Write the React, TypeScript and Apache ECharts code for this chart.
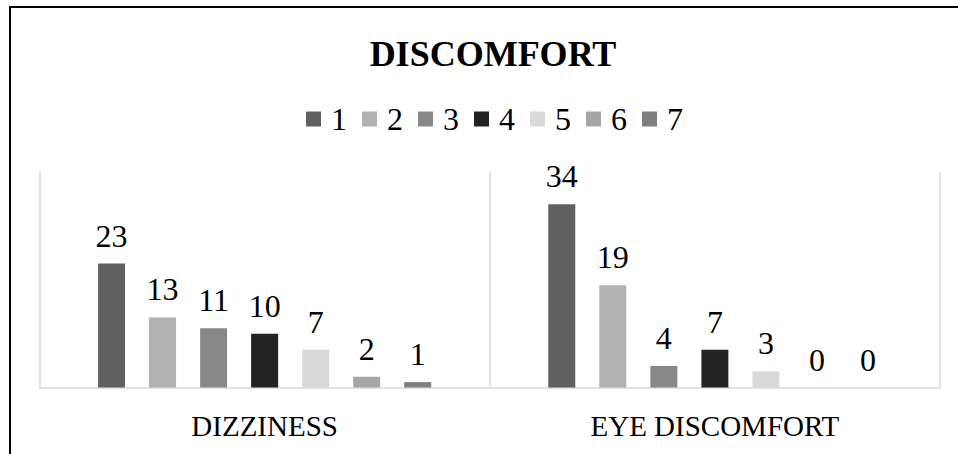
import React, { useEffect, useRef } from "react";
import * as echarts from "echarts";

const categories = ["DIZZINESS", "EYE DISCOMFORT"];
const seriesNames = ["1", "2", "3", "4", "5", "6", "7"];
const series1 = [23, 34];
const series2 = [13, 19];
const series3 = [11, 4];
const series4 = [10, 7];
const series5 = [7, 3];
const series6 = [2, 0];
const series7 = [1, 0];
const allSeries = [series1, series2, series3, series4, series5, series6, series7];
const colors = ["#606060", "#b1b1b1", "#888888", "#222222", "#d9d9d9", "#a6a6a6", "#7f7f7f"];

const FONT = "'Liberation Serif', 'Times New Roman', serif";

export default function App() {
  const ref = useRef<HTMLDivElement>(null);
  useEffect(() => {
    if (!ref.current) return;
    const chart = echarts.init(ref.current, undefined, { renderer: "svg" });
    chart.setOption({
      animation: false,
      title: {
        text: "DISCOMFORT",
        left: 488,
        top: 31,
        textAlign: "center",
        textStyle: { fontFamily: FONT, fontSize: 36, fontWeight: "bold", color: "#000", lineHeight: 36 },
      },
      legend: {
        data: seriesNames,
        left: 306,
        top: 103,
        icon: "rect",
        itemWidth: 15,
        itemHeight: 15,
        itemGap: 15,
        padding: 0,
        textStyle: { fontFamily: FONT, fontSize: 32, color: "#000", lineHeight: 30, padding: [0, 0, 0, 5] },
      },
      graphic: [
        {
          type: "rect",
          shape: { x: 10, y: 7, width: 1000, height: 600 },
          style: { fill: "none", stroke: "#000", lineWidth: 2 },
          silent: true,
        },
      ],
      grid: { left: 39.5, right: 18, top: 172, bottom: 66.5, containLabel: false },
      xAxis: {
        type: "category",
        data: categories,
        axisLine: { show: true, lineStyle: { color: "#d9d9d9", width: 1.5 } },
        axisTick: { show: false },
        splitLine: { show: true, lineStyle: { color: "#d9d9d9", width: 1.5 } },
        axisLabel: { fontFamily: FONT, fontSize: 29, color: "#000", margin: 24 },
      },
      yAxis: {
        type: "value",
        min: 0,
        max: 40,
        show: false,
        splitLine: { show: false },
      },
      series: allSeries.map((d, i) => ({
        type: "bar",
        name: seriesNames[i],
        data: d,
        barWidth: 27,
        barGap: "89%",
        itemStyle: { color: colors[i] },
        label: {
          show: true,
          position: "top",
          distance: 12,
          fontFamily: FONT,
          fontSize: 32,
          color: "#000",
        },
      })),
    });
    return () => chart.dispose();
  }, []);
  return (
    <div
      ref={ref}
      style={{ position: "fixed", left: 0, top: 0, width: 958, height: 454, background: "#fff" }}
    />
  );
}
